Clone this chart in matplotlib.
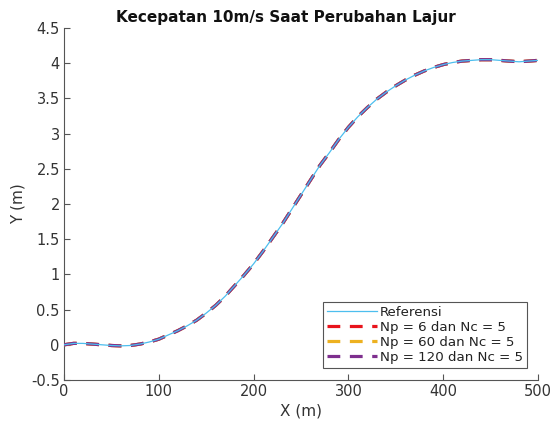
import matplotlib
matplotlib.use("Agg")
import matplotlib.pyplot as plt

x_m = [0, 10, 20, 30, 40, 50, 60, 70, 80, 90, 100, 110, 120, 130, 140, 150, 160, 170, 180, 190,
       200, 210, 220, 230, 240, 250, 260, 270, 280, 290, 300, 310, 320, 330, 340, 350, 360, 370,
       380, 390, 400, 410, 420, 430, 440, 450, 460, 470, 480, 490, 500]
y_ref = [0.0, 0.02, 0.02, 0.01, 0.0, -0.01, -0.015, -0.01, 0.01, 0.04, 0.08, 0.14, 0.2, 0.27,
         0.35, 0.45, 0.56, 0.69, 0.84, 0.99, 1.15, 1.33, 1.52, 1.71, 1.92, 2.13, 2.34, 2.55,
         2.73, 2.92, 3.09, 3.24, 3.37, 3.49, 3.59, 3.68, 3.76, 3.83, 3.89, 3.94, 3.98, 4.01,
         4.03, 4.04, 4.05, 4.05, 4.04, 4.03, 4.02, 4.03, 4.04]
y_np6 = list(y_ref)
y_np60 = list(y_ref)
y_np120 = list(y_ref)

labels = ["Referensi", "Np = 6 dan Nc = 5", "Np = 60 dan Nc = 5", "Np = 120 dan Nc = 5"]
x_ticks = [0, 100, 200, 300, 400, 500]
y_ticks = [-0.5, 0, 0.5, 1, 1.5, 2, 2.5, 3, 3.5, 4, 4.5]
y_ticklabels = ["-0.5", "0", "0.5", "1", "1.5", "2", "2.5", "3", "3.5", "4", "4.5"]

plt.rcParams["font.family"] = "DejaVu Sans"
fig = plt.figure(figsize=(5.52, 4.21), dpi=100)
ax = fig.add_axes([64/552, 1-380/421, 474/552, 352/421])

dash = (0, (4, 3))
ax.plot(x_m, y_ref, color="#4DBEEE", lw=0.9, label=labels[0], zorder=5)
ax.plot(x_m, y_np6, color="#E8141C", lw=2.3, ls=dash, label=labels[1], zorder=2)
ax.plot(x_m, y_np60, color="#EDB120", lw=2.3, ls=dash, label=labels[2], zorder=3)
ax.plot(x_m, y_np120, color="#7E2F8E", lw=2.3, ls=dash, label=labels[3], zorder=4)

ax.set_xlim(0, 500)
ax.set_ylim(-0.5, 4.5)
ax.set_xticks(x_ticks)
ax.set_yticks(y_ticks)
ax.set_yticklabels(y_ticklabels)
for s in ["top", "right"]:
    ax.spines[s].set_visible(False)
for s in ["left", "bottom"]:
    ax.spines[s].set_color("#555555")
    ax.spines[s].set_linewidth(0.8)
ax.tick_params(direction="in", length=4, width=0.8, colors="#555555", labelcolor="#333333",
               labelsize=10.5, pad=3)

ax.set_xlabel("X (m)", fontsize=11, color="#333333", labelpad=3)
ax.set_ylabel("Y (m)", fontsize=11, color="#333333", labelpad=4)
ax.set_title("Kecepatan 10m/s Saat Perubahan Lajur", fontsize=11, fontweight="bold",
             color="#111111", pad=4, x=0.468)

leg = ax.legend(loc="lower right", bbox_to_anchor=(0.977, 0.034), borderaxespad=0,
                fancybox=False, fontsize=9.6, handlelength=3.8, handletextpad=0.2,
                labelspacing=0.15, borderpad=0.3, framealpha=1)
leg.get_frame().set_edgecolor("#555555")
leg.get_frame().set_linewidth(0.8)
for t in leg.get_texts():
    t.set_color("#222222")

fig.savefig("out.png", dpi=100)
